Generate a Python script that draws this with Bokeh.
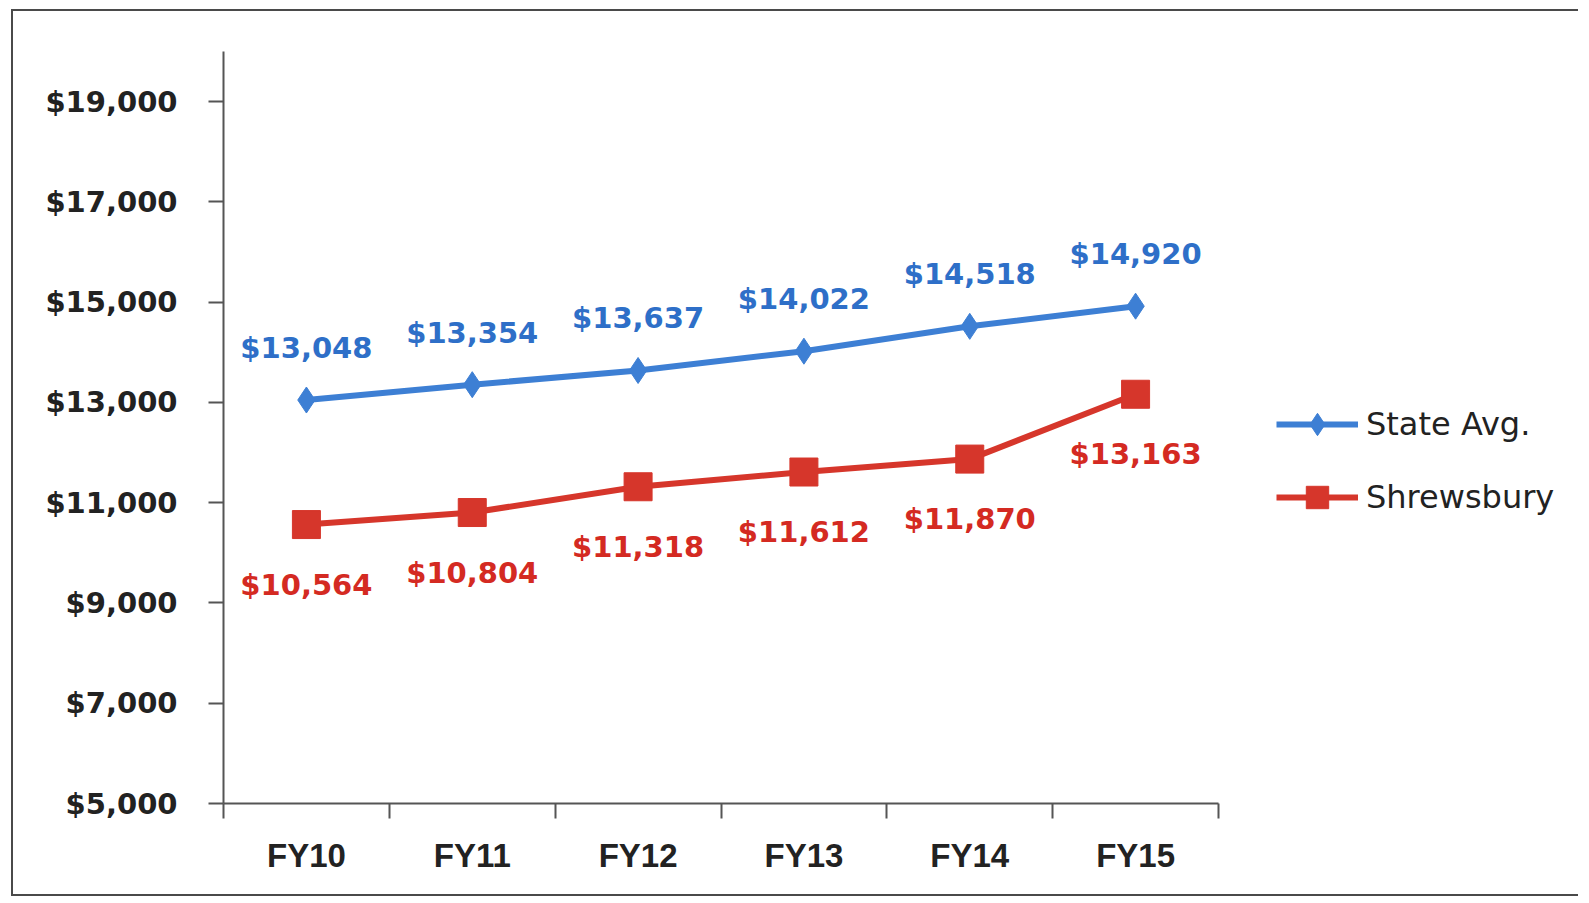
from bokeh.plotting import figure
from bokeh.models import (ColumnDataSource, FixedTicker, NumeralTickFormatter,
                          LabelSet, Legend, LegendItem, Range1d)
from bokeh.core.properties import value
from bokeh.embed import file_html
from bokeh.resources import INLINE

categories = ["FY10", "FY11", "FY12", "FY13", "FY14", "FY15"]
state_avg = [13048, 13354, 13637, 14022, 14518, 14920]
shrewsbury = [10564, 10804, 11318, 11612, 11870, 13163]
y_ticks = [5000, 7000, 9000, 11000, 13000, 15000, 17000, 19000]

BLUE = "#3d7fd4"
RED = "#d6362b"
BLUE_TXT = "#2e6fc8"
RED_TXT = "#d42a22"

W, H = 1567, 887
LEFT = 210
AXIS_PX = 995  # pixel length of the category axis
n = len(categories)
x_end = n * (W - LEFT) / AXIS_PX

xs = [i + 0.5 for i in range(n)]
src_state = ColumnDataSource(dict(x=xs, y=state_avg,
                                  label=[f"${v:,}" for v in state_avg]))
src_shr = ColumnDataSource(dict(x=xs, y=shrewsbury,
                                label=[f"${v:,}" for v in shrewsbury]))

p = figure(width=W, height=H, output_backend="svg", toolbar_location=None,
           x_range=Range1d(0, x_end), y_range=Range1d(5000, 20000),
           min_border_left=LEFT, min_border_right=0, min_border_top=40,
           min_border_bottom=95, margin=(9, 0, 0, 11),
           background_fill_color="white", border_fill_color="white",
           styles={"border-top": "2px solid #4a4a4a",
                   "border-left": "2px solid #4a4a4a",
                   "border-bottom": "2px solid #4a4a4a"})
p.outline_line_color = None
p.grid.visible = False

# y axis
p.yaxis.ticker = FixedTicker(ticks=y_ticks, minor_ticks=[])
p.yaxis.formatter = NumeralTickFormatter(format="$0,0")
p.yaxis.axis_line_color = "#555555"
p.yaxis.axis_line_width = 2
p.yaxis.major_tick_line_color = "#555555"
p.yaxis.major_tick_line_width = 2
p.yaxis.major_tick_out = 15
p.yaxis.major_tick_in = 0
p.yaxis.minor_tick_line_color = None
p.yaxis.major_label_standoff = 31
p.yaxis.major_label_text_font = "DejaVu Sans"
p.yaxis.major_label_text_font_style = "bold"
p.yaxis.major_label_text_font_size = "29px"
p.yaxis.major_label_text_color = "#222222"

# x axis
p.xaxis.bounds = (0, n)
p.xaxis.ticker = FixedTicker(ticks=xs, minor_ticks=list(range(n + 1)))
p.xaxis.major_label_overrides = {x: c for x, c in zip(xs, categories)}
p.xaxis.axis_line_color = "#555555"
p.xaxis.axis_line_width = 2
p.xaxis.major_tick_line_color = None
p.xaxis.major_tick_out = 15
p.xaxis.major_tick_in = 0
p.xaxis.minor_tick_line_color = "#555555"
p.xaxis.minor_tick_line_width = 2
p.xaxis.minor_tick_out = 15
p.xaxis.minor_tick_in = 0
p.xaxis.major_label_standoff = 18
p.xaxis.major_label_text_font = "Liberation Sans"
p.xaxis.major_label_text_font_style = "bold"
p.xaxis.major_label_text_font_size = "33px"
p.xaxis.major_label_text_color = "#222222"

# series
l1 = p.line("x", "y", source=src_state, line_color=BLUE, line_width=6)
m1 = p.scatter("x", "y", source=src_state, marker="diamond", size=26,
               fill_color=BLUE, line_color=BLUE)
l2 = p.line("x", "y", source=src_shr, line_color=RED, line_width=6)
m2 = p.scatter("x", "y", source=src_shr, marker="square", size=28,
               fill_color=RED, line_color=RED)

p.add_layout(LabelSet(x="x", y="y", text="label", source=src_state,
                      y_offset=52, text_align="center", text_baseline="middle",
                      text_font_size="29px", text_font_style="bold",
                      text_color=BLUE_TXT, text_font=value("DejaVu Sans")))
p.add_layout(LabelSet(x="x", y="y", text="label", source=src_shr,
                      y_offset=-60, text_align="center", text_baseline="middle",
                      text_font_size="29px", text_font_style="bold",
                      text_color=RED_TXT, text_font=value("DejaVu Sans")))

legend = Legend(items=[LegendItem(label="State Avg.", renderers=[l1, m1]),
                       LegendItem(label="Shrewsbury", renderers=[l2, m2])],
                location=(1053, 278), glyph_width=82, glyph_height=56,
                spacing=17, padding=0, margin=0, label_standoff=8,
                border_line_color=None, background_fill_alpha=0,
                label_text_font="DejaVu Sans", label_text_font_size="32px",
                label_text_color="#222222")
p.add_layout(legend)

open("out.html", "w").write(file_html(p, INLINE))
